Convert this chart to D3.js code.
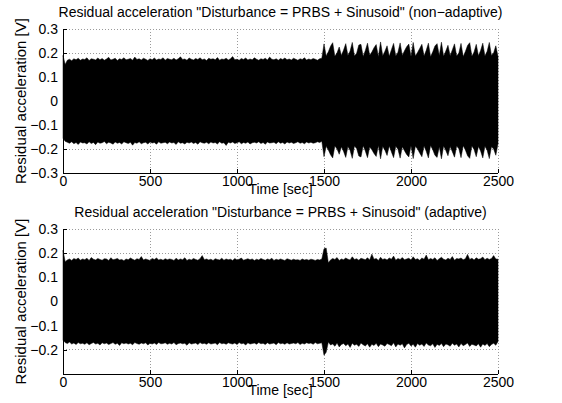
<!DOCTYPE html>
<html>
<head>
<meta charset="utf-8">
<script src="https://cdn.jsdelivr.net/npm/d3@7"></script>
<style>
  html, body { margin: 0; padding: 0; background: #fff; }
  svg { display: block; font-family: "Liberation Sans", Arial, Helvetica, sans-serif; }
</style>
</head>
<body>
<svg id="chart" width="562" height="403"></svg>
<script>
// ---------------- DATA ----------------
// Envelope of the (very dense) residual acceleration signal, sampled every 12.5 s (0 ... 2500 s), in mV
const sampleStepSec = 12.5;

const nonAdaptiveUpper = [
  190,152,170,174,168,176,172,178,170,175,
  173,180,169,176,174,171,179,172,177,170,
  175,182,171,174,178,169,176,173,180,172,
  174,177,170,183,173,176,171,178,174,169,
  176,172,179,171,175,173,180,170,177,174,
  172,178,171,176,184,173,175,170,179,174,
  171,177,173,180,172,175,169,178,174,176,
  172,181,170,175,173,178,171,176,185,172,
  174,170,177,173,179,171,175,172,180,174,
  170,176,173,178,171,183,174,172,176,170,
  177,173,179,172,175,171,178,174,170,176,
  173,180,171,175,172,177,174,170,176,178,
  238,188,205,228, 243,186,201, 225,190,212,239, 190,208,
  244,187,199,233, 236,185,210, 241,191,204,222, 235,184,
  246,189,207, 230,186,214,240, 188,203, 242,190,209,226,
  237,185, 244,188,202,219, 236,187,211, 241,184,205,229,
  239,190, 245,186,208, 232,189,213,238, 187,200, 240,185,
  206,231, 243,186,204, 236,189,210,241, 188,207,
  244,190,201,230,185
];
const nonAdaptiveLower = [
  -155,-168,-172,-176,-170,-178,-173,-181,-171,-175,
  -174,-179,-170,-177,-173,-182,-171,-176,-174,-169,
  -178,-172,-175,-180,-171,-176,-173,-179,-170,-174,
  -177,-172,-184,-173,-176,-170,-178,-174,-172,-179,
  -171,-175,-173,-180,-170,-176,-174,-172,-178,-171,
  -175,-173,-181,-170,-176,-174,-179,-172,-175,-171,
  -177,-173,-180,-170,-174,-176,-172,-178,-171,-175,
  -173,-179,-170,-176,-174,-185,-172,-175,-171,-177,
  -174,-170,-178,-173,-176,-171,-179,-174,-172,-175,
  -170,-177,-173,-180,-171,-175,-174,-172,-178,-170,
  -176,-173,-179,-171,-175,-172,-177,-174,-170,-176,
  -173,-178,-171,-175,-172,-176,-174,-170,-173,-168,
  -232,-189,-204,-224, -237,-187,-200, -222,-191,-210,-235, -190,-206,
  -239,-188,-198,-229, -233,-186,-208, -236,-192,-203,-219, -231,-185,
  -241,-190,-205, -227,-187,-212,-236, -189,-201, -238,-191,-207,-223,
  -233,-186, -240,-189,-200,-217, -232,-188,-209, -237,-185,-203,-226,
  -235,-191, -241,-187,-206, -228,-190,-211,-234, -188,-199, -236,-186,
  -204,-228, -239,-187,-202, -232,-190,-208,-237, -189,-205,
  -240,-191,-200,-226,-178
];
const adaptiveUpper = [
  212,165,172,176,170,178,174,180,171,176,
  173,179,170,182,175,172,178,174,171,177,
  176,170,181,173,175,178,172,174,169,176,
  173,180,175,171,177,174,186,172,176,173,
  170,178,174,180,172,175,171,177,173,176,
  174,170,179,172,176,173,181,170,175,172,
  178,174,171,177,190,173,176,172,175,170,
  177,174,172,179,171,176,173,175,170,178,
  172,175,180,171,174,177,173,176,170,175,
  172,178,174,171,176,173,179,170,175,172,
  176,173,170,177,174,171,175,172,173,170,
  176,172,174,171,175,173,170,174,172,176,
  218,221,160,172,178,174,182,170,176,173,
  180,175,172,185,174,177,171,179,176,173,
  181,172,196,175,178,170,183,174,177,172,
  180,175,188,171,178,174,182,173,176,179,
  172,185,174,177,171,180,175,192,173,178,
  174,181,170,177,183,175,172,179,174,186,
  171,178,176,180,173,177,195,174,179,172,
  181,175,177,184,173,179,174,178,190,176,
  175
];
const adaptiveLower = [
  -160,-170,-174,-168,-176,-172,-178,-170,-175,-173,
  -177,-171,-179,-174,-170,-176,-173,-180,-171,-175,
  -172,-178,-174,-170,-177,-173,-182,-171,-175,-172,
  -176,-173,-179,-170,-174,-177,-172,-175,-171,-180,
  -173,-176,-172,-178,-170,-175,-174,-171,-177,-173,
  -176,-170,-179,-174,-172,-175,-173,-181,-171,-176,
  -174,-172,-178,-170,-175,-173,-177,-171,-176,-174,
  -172,-179,-170,-175,-173,-177,-171,-174,-176,-172,
  -178,-170,-175,-173,-180,-171,-176,-174,-172,-177,
  -170,-175,-173,-178,-171,-176,-174,-172,-179,-170,
  -175,-173,-177,-171,-176,-174,-172,-175,-170,-178,
  -173,-176,-171,-174,-172,-177,-170,-175,-173,-171,
  -222,-210,-168,-180,-176,-185,-172,-188,-178,-174,
  -183,-176,-190,-173,-181,-177,-186,-172,-179,-184,
  -175,-189,-177,-182,-173,-187,-176,-180,-185,-174,
  -178,-183,-171,-188,-176,-181,-175,-192,-178,-173,
  -184,-177,-189,-174,-181,-176,-186,-172,-180,-183,
  -175,-190,-177,-182,-174,-187,-176,-179,-185,-173,
  -181,-176,-188,-174,-183,-178,-172,-186,-177,-180,
  -184,-175,-189,-176,-182,-174,-187,-178,-173,-181,
  -165
];

const xTicks = [0, 500, 1000, 1500, 2000, 2500];
const xTickLabels = ["0", "500", "1000", "1500", "2000", "2500"];
const yTicksTop = [-0.3, -0.2, -0.1, 0, 0.1, 0.2, 0.3];
const yTickLabelsTop = ["\u22120.3", "\u22120.2", "\u22120.1", "0", "0.1", "0.2", "0.3"];
const yTicksBottom = [-0.2, -0.1, 0, 0.1, 0.2, 0.3];
const yTickLabelsBottom = ["\u22120.2", "\u22120.1", "0", "0.1", "0.2", "0.3"];

const titles = [
  'Residual acceleration "Disturbance = PRBS + Sinusoid" (non\u2212adaptive)',
  'Residual acceleration "Disturbance = PRBS + Sinusoid" (adaptive)'
];
const xLabel = "Time [sec]";
const yLabel = "Residual acceleration [V]";

// ---------------- LAYOUT ----------------
const svg = d3.select("#chart");
const plotLeft = 63, plotRight = 498;
const panels = [
  { top: 29, bottom: 173, upper: nonAdaptiveUpper, lower: nonAdaptiveLower,
    yTicks: yTicksTop, yLabels: yTickLabelsTop, title: titles[0] },
  { top: 229, bottom: 374, upper: adaptiveUpper, lower: adaptiveLower,
    yTicks: yTicksBottom, yLabels: yTickLabelsBottom, title: titles[1] }
];
const fontFamily = '"Liberation Sans", Arial, Helvetica, sans-serif';
const tickFont = 14, titleFont = 14, xLabelFont = 14, yLabelFont = 15;
const gridColor = "#9a9a9a";

panels.forEach(p => {
  const x = d3.scaleLinear().domain([0, 2500]).range([plotLeft, plotRight]);
  const y = d3.scaleLinear().domain([-0.3, 0.3]).range([p.bottom, p.top]);
  const g = svg.append("g");

  // grid
  g.append("g").selectAll("line").data(xTicks).join("line")
    .attr("x1", d => x(d)).attr("x2", d => x(d))
    .attr("y1", p.top).attr("y2", p.bottom)
    .attr("stroke", gridColor).attr("stroke-width", 1)
    .attr("stroke-dasharray", "1,2")
    .attr("shape-rendering", "crispEdges");
  g.append("g").selectAll("line").data(p.yTicks).join("line")
    .attr("x1", plotLeft).attr("x2", plotRight)
    .attr("y1", d => y(d)).attr("y2", d => y(d))
    .attr("stroke", gridColor).attr("stroke-width", 1)
    .attr("stroke-dasharray", "1,2")
    .attr("shape-rendering", "crispEdges");

  // signal envelope
  const data = p.upper.map((u, i) => ({ t: i * sampleStepSec, hi: u / 1000, lo: p.lower[i] / 1000 }));
  const area = d3.area()
    .x(d => x(d.t))
    .y0(d => y(d.lo))
    .y1(d => y(d.hi));
  g.append("path").datum(data)
    .attr("d", area)
    .attr("fill", "#000")
    .attr("stroke", "#000")
    .attr("stroke-width", 0.5)
    .attr("stroke-linejoin", "miter");

  // axes (inward ticks, no box)
  const xAxis = d3.axisBottom(x).tickValues(xTicks)
    .tickFormat((d, i) => xTickLabels[i]).tickSizeInner(-4).tickSizeOuter(0).tickPadding(3);
  const xg = g.append("g").attr("transform", `translate(0,${p.bottom})`).call(xAxis);
  const yAxis = d3.axisLeft(y).tickValues(p.yTicks)
    .tickFormat((d, i) => p.yLabels[i]).tickSizeInner(-4).tickSizeOuter(0).tickPadding(5);
  const yg = g.append("g").attr("transform", `translate(${plotLeft},0)`).call(yAxis);
  [xg, yg].forEach(a => {
    a.select(".domain").attr("stroke", "#000").attr("stroke-width", 1).attr("shape-rendering", "crispEdges");
    a.selectAll(".tick line").attr("stroke", "#000").attr("shape-rendering", "crispEdges");
    a.selectAll("text").attr("font-size", tickFont).attr("fill", "#000")
      .attr("font-family", fontFamily);
  });
  yg.select(".domain").attr("d", `M0,${p.top}V${p.bottom}`);
  xg.select(".domain").attr("d", `M${x.range()[0]},0H${x.range()[1]}`);

  // title
  g.append("text")
    .attr("x", (plotLeft + plotRight) / 2).attr("y", p.top - 12)
    .attr("text-anchor", "middle").attr("font-size", titleFont).attr("fill", "#000")
    .attr("font-family", fontFamily)
    .text(p.title);
  // x label
  g.append("text")
    .attr("x", (plotLeft + plotRight) / 2).attr("y", p.bottom + 21)
    .attr("text-anchor", "middle").attr("font-size", xLabelFont).attr("fill", "#000")
    .attr("font-family", fontFamily)
    .text(xLabel);
  // y label
  g.append("text")
    .attr("transform", `translate(26,${(p.top + p.bottom) / 2}) rotate(-90)`)
    .attr("text-anchor", "middle").attr("font-size", yLabelFont).attr("fill", "#000")
    .attr("font-family", fontFamily)
    .text(yLabel);
});
</script>
</body>
</html>
